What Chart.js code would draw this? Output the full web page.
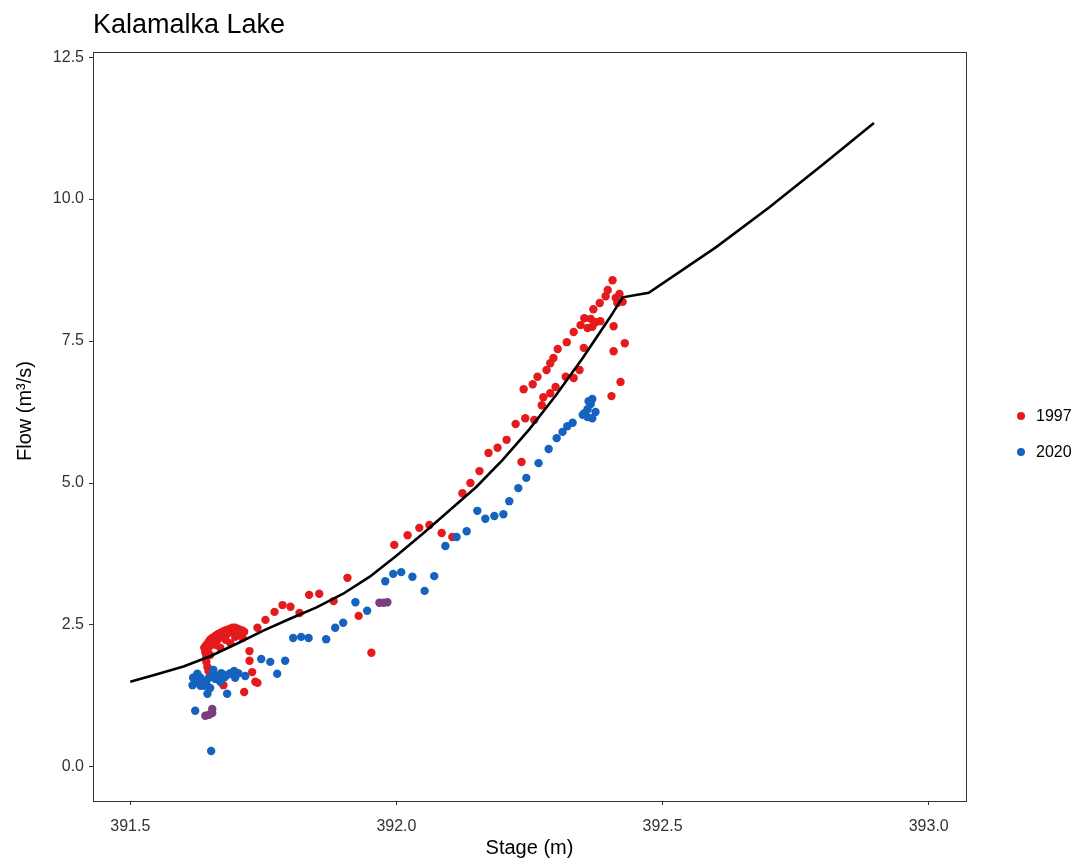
<!DOCTYPE html>
<html>
<head>
<meta charset="utf-8">
<script src="https://cdn.jsdelivr.net/npm/chart.js@4.4.1/dist/chart.umd.min.js"></script>
<style>
  html, body { margin: 0; padding: 0; background: #ffffff; }
  #c { display: block; }
</style>
</head>
<body>
<canvas id="c" width="1092" height="859"></canvas>
<script>
// ---- Data ----
const chartTitle = "Kalamalka Lake";
const xTitle = "Stage (m)";
const yTitle = "Flow (m\u00B3/s)";
const xTickValues = [391.5, 392.0, 392.5, 393.0];
const yTickValues = [0, 2.5, 5.0, 7.5, 10.0, 12.5];
const legendLabels = ["1997", "2020"];

// Rating curve
const curveStage = [391.5, 391.55, 391.6, 391.65, 391.7, 391.75, 391.8, 391.85, 391.9, 391.95, 392.0, 392.05, 392.1, 392.15, 392.2, 392.25, 392.3, 392.35, 392.4, 392.425, 392.474, 392.6, 392.7, 392.8, 392.897];
const curveFlow  = [1.50, 1.63, 1.77, 1.95, 2.17, 2.40, 2.61, 2.81, 3.05, 3.35, 3.72, 4.11, 4.52, 4.93, 5.41, 5.95, 6.55, 7.20, 7.90, 8.27, 8.35, 9.15, 9.85, 10.60, 11.34];

// 1997 measurements
const stage1997 = [391.639,391.643,391.647,391.650,391.654,391.660,391.665,391.669,391.675,391.680,391.686,391.692,391.697,391.703,391.709,391.714,
  391.641,391.645,391.648,391.656,391.664,391.673,391.682,391.692,391.701,391.643,391.643,391.645,391.647,391.739,
  391.660,391.679,391.697,391.711,391.669,391.650,391.688,
  391.724,391.724,391.729,391.735,391.739,391.675,391.714,
  391.754,391.771,391.786,391.801,391.818,391.836,391.855,391.882,391.908,391.929,391.953,
  391.996,392.021,392.043,392.062,392.085,392.105,392.124,392.139,392.156,392.173,392.190,392.207,392.224,392.242,392.259,392.235,
  392.273,392.276,392.289,392.299,392.239,392.256,392.265,392.282,392.289,392.295,392.303,392.320,392.333,392.346,392.353,392.365,
  392.374,392.383,392.368,392.359,392.370,392.382,392.393,392.397,392.406,392.344,392.333,392.318,392.352,392.408,392.419,392.425,
  392.415,392.412,392.429,392.408,392.421,392.404];
const flow1997 = [2.10,2.15,2.20,2.24,2.27,2.31,2.34,2.36,2.39,2.41,2.43,2.45,2.45,2.43,2.41,2.38,
  2.02,2.06,2.11,2.18,2.24,2.29,2.34,2.38,2.36,1.94,1.85,1.76,1.69,2.45,
  2.15,2.24,2.29,2.27,2.10,1.97,2.18,
  2.04,1.87,1.67,1.50,1.48,1.44,1.32,
  2.59,2.73,2.85,2.82,2.71,3.03,3.05,2.92,3.33,2.66,2.01,
  3.91,4.08,4.21,4.26,4.12,4.05,4.82,5.00,5.21,5.53,5.62,5.76,6.04,6.14,6.11,5.37,
  6.37,6.51,6.58,6.69,6.65,6.74,6.87,6.99,7.11,7.20,7.36,7.48,7.66,7.78,7.90,7.89,
  7.83,7.85,7.75,7.73,8.06,8.17,8.29,8.40,8.57,6.99,6.85,6.87,7.38,7.76,8.33,8.19,
  8.17,8.26,7.46,7.32,6.78,6.53];

// 2020 measurements
const stage2020 = [391.622,391.628,391.632,391.637,391.643,391.648,391.654,391.660,391.665,391.671,391.677,391.682,391.688,391.695,391.703,
  391.624,391.632,391.639,391.618,391.626,391.645,391.682,391.622,391.652,391.697,
  391.617,391.650,391.669,391.716,391.656,
  391.746,391.763,391.776,391.791,391.806,391.821,391.835,391.868,391.885,391.900,391.923,391.945,
  391.979,391.994,392.009,392.030,392.053,392.071,392.092,392.113,392.132,392.152,392.167,392.184,392.201,392.212,392.229,392.244,
  392.267,392.286,392.301,392.312,392.321,392.331,392.350,392.359,392.368,392.361,392.368,392.359,392.353,392.365,392.374];
const flow2020 = [1.53,1.48,1.57,1.51,1.46,1.57,1.60,1.55,1.60,1.65,1.58,1.62,1.65,1.69,1.65,
  1.60,1.43,1.43,1.57,1.64,1.29,1.29,0.99,0.28,1.57,
  1.44,1.39,1.50,1.60,1.71,
  1.90,1.85,1.64,1.87,2.27,2.29,2.27,2.25,2.45,2.54,2.90,2.75,
  3.27,3.40,3.43,3.35,3.10,3.36,3.89,4.05,4.15,4.51,4.37,4.42,4.45,4.68,4.91,5.09,
  5.35,5.60,5.79,5.90,6.00,6.06,6.20,6.16,6.14,6.44,6.48,6.30,6.23,6.39,6.25];

// Overlapping 1997/2020 measurements (purple)
const stageOverlap = [391.641,391.648,391.654,391.654,391.968,391.976,391.983];
const flowOverlap  = [0.90,0.92,0.95,1.02,2.89,2.89,2.90];

// ---- Build ----
const toPts = (xs, ys) => xs.map((x, i) => ({ x: x, y: ys[i] }));
const FONT = "'Liberation Sans', Arial, Helvetica, sans-serif";
const RED = "#E41A1C", BLUE = "#1563BF", PURPLE = "#7A3E80";

const framePlugin = {
  id: 'frame',
  afterDraw(chart) {
    const { ctx, chartArea: a } = chart;
    ctx.save();
    ctx.strokeStyle = '#333333';
    ctx.lineWidth = 1;
    ctx.strokeRect(Math.round(a.left) + 0.5, Math.round(a.top) + 0.5, Math.round(a.right - a.left), Math.round(a.bottom - a.top));
    // title
    ctx.fillStyle = '#000';
    ctx.font = "27px " + FONT;
    ctx.textBaseline = 'middle';
    ctx.textAlign = 'left';
    ctx.fillText(chartTitle, 93, 26);
    // y axis title
    ctx.save();
    ctx.translate(25, 411);
    ctx.rotate(-Math.PI / 2);
    ctx.font = "20px " + FONT;
    ctx.textAlign = 'center';
    ctx.fillText(yTitle, 0, 0);
    ctx.restore();
    // legend
    const colors = [RED, BLUE];
    const ys = [416, 452];
    ctx.font = "16px " + FONT;
    ctx.textAlign = 'left';
    legendLabels.forEach((lab, i) => {
      ctx.beginPath();
      ctx.fillStyle = colors[i];
      ctx.arc(1021, ys[i], 4, 0, Math.PI * 2);
      ctx.fill();
      ctx.fillStyle = '#000';
      ctx.fillText(lab, 1036, ys[i] + 1);
    });
    ctx.restore();
  }
};

const axisCommon = {
  type: 'linear',
  grid: { display: true, drawOnChartArea: false, drawTicks: true, tickLength: 4, color: '#333333', lineWidth: 1 },
  border: { display: true, color: '#333333', width: 1 },
};

new Chart(document.getElementById('c'), {
  type: 'scatter',
  data: {
    datasets: [
      { label: 'curve', type: 'line', data: toPts(curveStage, curveFlow), borderColor: '#000000', borderWidth: 2.6,
        pointRadius: 0, showLine: true, fill: false, tension: 0, order: 0 },
      { label: legendLabels[0], data: toPts(stage1997, flow1997), backgroundColor: RED, borderWidth: 0, pointRadius: 4.2, order: 3 },
      { label: legendLabels[1], data: toPts(stage2020, flow2020), backgroundColor: BLUE, borderWidth: 0, pointRadius: 4.2, order: 2 },
      { label: 'overlap', data: toPts(stageOverlap, flowOverlap), backgroundColor: PURPLE, borderWidth: 0, pointRadius: 4.2, order: 1 }
    ]
  },
  options: {
    responsive: false,
    animation: false,
    devicePixelRatio: 1,
    layout: { padding: { top: 52, right: 126, left: 0, bottom: 0 } },
    plugins: { legend: { display: false }, tooltip: { enabled: false }, title: { display: false } },
    scales: {
      x: Object.assign({}, axisCommon, {
        min: 391.43, max: 393.07,
        afterBuildTicks: s => { s.ticks = xTickValues.map(v => ({ value: v })); },
        afterFit: s => { s.height = 58; },
        ticks: { callback: v => Number(v).toFixed(1), font: { size: 16, family: FONT }, color: '#333333', padding: 12, maxRotation: 0, autoSkip: false },
        title: { display: true, text: xTitle, font: { size: 20, family: FONT, lineHeight: 1.1 }, color: '#000', padding: { top: 0, bottom: 0 } }
      }),
      y: Object.assign({}, axisCommon, {
        min: -0.6, max: 12.59,
        afterBuildTicks: s => { s.ticks = yTickValues.map(v => ({ value: v })); },
        afterFit: s => { s.width = 93; },
        ticks: { callback: v => Number(v).toFixed(1), font: { size: 16, family: FONT }, color: '#333333', padding: 5, autoSkip: false },
        title: { display: false }
      })
    }
  },
  plugins: [framePlugin]
});
</script>
</body>
</html>
